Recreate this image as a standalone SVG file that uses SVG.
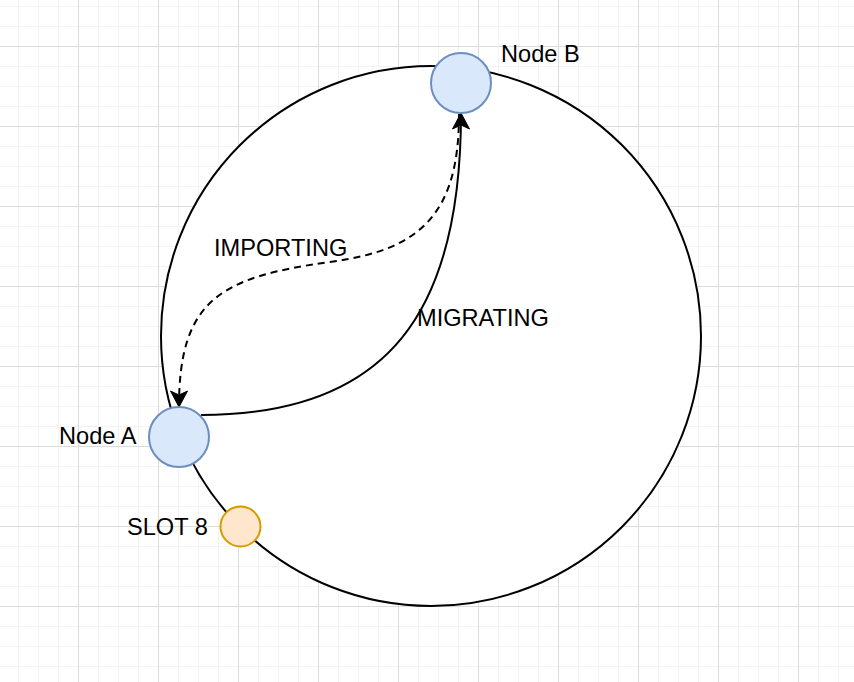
<svg xmlns="http://www.w3.org/2000/svg" width="854" height="682" viewBox="0 0 854 682">
  <defs>
    <pattern id="grid" x="78" y="46" width="80" height="80" patternUnits="userSpaceOnUse">
      <path d="M20.5 0V80M40.5 0V80M60.5 0V80M0 20.5H80M0 40.5H80M0 60.5H80" stroke="#f3f3f3" stroke-width="1" fill="none"/>
      <path d="M0.5 0V80M0 0.5H80" stroke="#dcdcdc" stroke-width="1" fill="none"/>
    </pattern>
    <marker id="arrow" markerUnits="userSpaceOnUse" markerWidth="20" markerHeight="20" viewBox="-17 -10 20 20" refX="0" refY="0" orient="auto">
      <path d="M0 0L-16 -8.5L-12 0L-16 8.5Z" fill="#000" stroke="#000" stroke-width="1" stroke-linejoin="miter"/>
    </marker>
    <style>
      .lbl { font-family: "Liberation Sans", Arial, Helvetica, sans-serif; font-size: 23.6px; fill: #000; }
      .node { fill: #dae8fc; stroke: #6c8ebf; stroke-width: 2; }
      .slot { fill: #ffe6cc; stroke: #d79b00; stroke-width: 2; }
      .edge { fill: none; stroke: #000; stroke-width: 2; }
    </style>
  </defs>
  <rect x="0" y="0" width="854" height="682" fill="#ffffff"/>
  <rect x="0" y="0" width="854" height="682" fill="url(#grid)"/>

  <g id="ring">
    <circle cx="431" cy="336" r="270" fill="#ffffff" stroke="#000" stroke-width="2"/>
  </g>

  <g id="connectors">
    <path id="edge-migrating" class="edge" d="M201 415C390 415 461 310 461 113" marker-end="url(#arrow)"/>
    <path id="edge-importing" class="edge" stroke-dasharray="7 5" d="M459 114C459 215 420 250 330 262C220 277 179 300 179 407" marker-end="url(#arrow)"/>
    <text class="lbl" x="214" y="256">IMPORTING</text>
    <text class="lbl" x="417" y="326">MIGRATING</text>
  </g>

  <g id="node-b">
    <circle class="node" cx="461" cy="83" r="30"/>
    <text class="lbl" x="501" y="62">Node B</text>
  </g>

  <g id="node-a">
    <circle class="node" cx="179" cy="437" r="30"/>
    <text class="lbl" x="59" y="443.5">Node A</text>
  </g>

  <g id="slot-8">
    <circle class="slot" cx="240.5" cy="526.5" r="20"/>
    <text class="lbl" x="127" y="535">SLOT 8</text>
  </g>
</svg>
